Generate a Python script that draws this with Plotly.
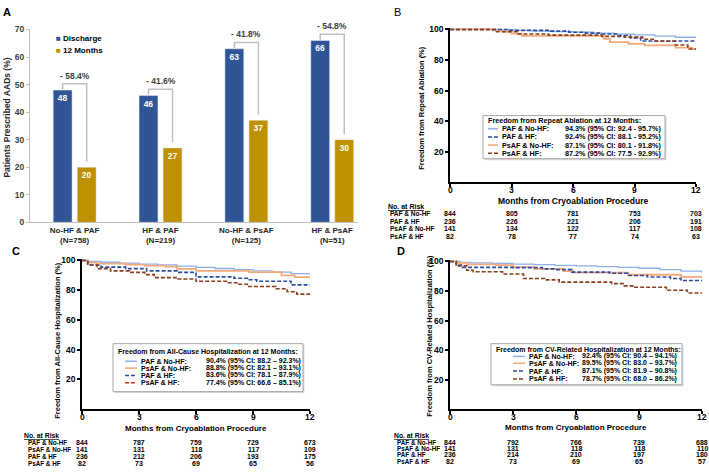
import plotly.graph_objects as go

W, H = 709, 472
FONT = "Liberation Sans, Arial, sans-serif"

BLUE_BAR = "#2F5597"
GOLD_BAR = "#BF9000"
LIGHT_BLUE = "#8DB0E6"
DARK_BLUE = "#2B4C9F"
ORANGE = "#F5A97A"
BROWN = "#8A3E1C"
RED = "#D9301E"
GRAY = "#BFBFBF"

# ---- Panel A: patients prescribed AADs
groups = ["No-HF & PAF<br>(N=758)", "HF & PAF<br>(N=219)", "No-HF & PsAF<br>(N=125)", "HF & PsAF<br>(N=51)"]
aad_discharge = [48, 46, 63, 66]
aad_12m = [20, 27, 37, 30]
aad_change = ["- 58.4%", "- 41.6%", "- 41.8%", "- 54.8%"]

# ---- KM panels, shared
km_months = [0, 3, 6, 9, 12]

# ---- Panel B: freedom from repeat ablation
b_paf_nohf_t = [0, 2.5, 3.2, 4.0, 5.0, 6.0, 7.0, 8.0, 9.0, 10.0, 11.0, 12.0]
b_paf_nohf_s = [100, 99.7, 99.4, 99.0, 98.6, 98.2, 97.6, 97.0, 96.4, 95.6, 94.9, 94.3]
b_paf_hf_t = [0, 2.8, 4.9, 5.8, 6.6, 7.4, 8.2, 8.8, 9.3, 12.0]
b_paf_hf_s = [100, 99.4, 98.9, 98.2, 97.6, 97.0, 96.0, 94.5, 92.4, 92.4]
b_psaf_nohf_t = [0, 2.05, 2.6, 3.0, 3.5, 7.5, 7.8, 8.7, 9.5, 11.0, 11.8, 12.0]
b_psaf_nohf_s = [100, 99.4, 98.5, 97.3, 95.8, 93.8, 91.7, 90.6, 89.6, 88.1, 87.1, 87.1]
b_psaf_hf_t = [0, 2.2, 3.3, 4.8, 7.4, 8.5, 9.4, 10.0, 11.0, 11.6, 12.0]
b_psaf_hf_s = [100, 98.5, 97.0, 96.3, 95.5, 95.0, 93.6, 92.3, 89.8, 87.2, 87.2]
b_leg_title = "Freedom from Repeat Ablation at 12 Months:"
b_leg_labels = ["PAF & No-HF:", "PAF & HF:", "PsAF & No-HF:", "PsAF & HF:"]
b_leg_values = ["94.3% (95% CI: 92.4 - 95.7%)", "92.4% (95% CI: 88.1 - 95.2%)",
                "87.1% (95% CI: 80.1 - 91.8%)", "87.2% (95% CI: 77.5 - 92.9%)"]
b_risk_labels = ["PAF & No-HF", "PAF & HF", "PsAF & No-HF", "PsAF & HF"]
b_risk = [[844, 805, 781, 753, 703], [236, 226, 221, 206, 191],
          [141, 134, 122, 117, 108], [82, 78, 77, 74, 63]]

# ---- Panel C: freedom from all-cause hospitalization
c_paf_nohf_t = [0, 0.3, 1, 2, 3, 4, 5, 6, 7, 8, 9, 10, 11, 12]
c_paf_nohf_s = [100, 99.3, 98.8, 98.2, 97.6, 97.0, 96.2, 95.4, 94.6, 93.8, 93.0, 92.1, 91.2, 90.4]
c_psaf_nohf_t = [0, 0.3, 0.8, 2.3, 3.3, 4.4, 5.0, 6.0, 8.8, 10.5, 11.2, 12.0]
c_psaf_nohf_s = [100, 98.6, 97.9, 97.2, 96.5, 95.8, 94.4, 93.0, 92.2, 90.0, 88.8, 88.8]
c_paf_hf_t = [0, 0.3, 1.0, 2.3, 3.4, 5.0, 6.0, 8.0, 8.8, 9.2, 11.0, 12.0]
c_paf_hf_s = [100, 97.0, 95.5, 94.5, 93.0, 92.0, 89.0, 88.0, 87.0, 86.0, 83.6, 83.6]
c_psaf_hf_t = [0, 0.3, 0.8, 1.5, 2.5, 3.3, 3.8, 5.0, 6.0, 7.7, 8.2, 8.7, 10.2, 10.8, 11.3, 12.0]
c_psaf_hf_s = [100, 97.0, 94.5, 93.0, 92.0, 90.5, 88.5, 87.5, 86.0, 85.0, 84.0, 82.5, 81.0, 79.0, 77.4, 77.4]
c_leg_title = "Freedom from All-Cause Hospitalization at 12 Months:"
c_leg_labels = ["PAF & No-HF:", "PsAF & No-HF:", "PAF & HF:", "PsAF & HF:"]
c_leg_values = ["90.4% (95% CI: 88.2 \u2013 92.3%)", "88.8% (95% CI: 82.1 \u2013 93.1%)",
                "83.6% (95% CI: 78.1 \u2013 87.9%)", "77.4% (95% CI: 66.6 \u2013 85.1%)"]
c_risk_labels = ["PAF & No-HF", "PsAF & No-HF", "PAF & HF", "PsAF & HF"]
c_risk = [[844, 787, 759, 729, 673], [141, 131, 118, 117, 109],
          [236, 212, 206, 193, 175], [82, 73, 69, 65, 56]]

# ---- Panel D: freedom from CV-related hospitalization
d_paf_nohf_t = [0, 0.5, 1, 2, 3, 4, 5, 6, 7, 8, 9, 10, 11, 12]
d_paf_nohf_s = [100, 99.3, 99.0, 98.6, 98.2, 97.8, 97.4, 97.0, 96.5, 96.0, 95.4, 94.4, 93.4, 92.4]
d_psaf_nohf_t = [0, 0.3, 0.8, 2.2, 3.0, 4.0, 5.4, 5.9, 8.5, 11.0, 12.0]
d_psaf_nohf_s = [100, 99.0, 98.0, 97.5, 96.2, 95.0, 93.5, 92.4, 91.0, 89.5, 89.5]
d_paf_hf_t = [0, 0.3, 0.6, 3.0, 4.4, 5.0, 5.8, 7.6, 8.5, 9.4, 10.5, 11.0, 12.0]
d_paf_hf_s = [100, 97.5, 96.0, 95.8, 95.0, 94.5, 92.8, 92.0, 90.5, 89.5, 88.5, 87.1, 87.1]
d_psaf_hf_t = [0, 0.3, 0.8, 1.1, 2.5, 3.5, 4.5, 5.2, 7.7, 8.3, 8.8, 10.3, 11.3, 12.0]
d_psaf_hf_s = [100, 97.0, 94.0, 93.0, 91.5, 88.5, 87.5, 86.0, 85.0, 83.5, 82.5, 80.5, 78.7, 78.7]
d_leg_title = "Freedom from CV-Related Hospitalization at 12 Months:"
d_leg_labels = ["PAF & No-HF:", "PsAF & No-HF:", "PAF & HF:", "PsAF & HF:"]
d_leg_values = ["92.4% (95% CI: 90.4 \u2013 94.1%)", "89.5% (95% CI: 83.0 \u2013 93.7%)",
                "87.1% (95% CI: 81.9 \u2013 90.8%)", "78.7% (95% CI: 68.0 \u2013 86.2%)"]
d_risk_labels = ["PAF & No-HF", "PsAF & No-HF", "PAF & HF", "PsAF & HF"]
d_risk = [[844, 792, 766, 739, 688], [141, 131, 118, 118, 110],
          [236, 214, 210, 197, 180], [82, 73, 69, 65, 57]]


def fx(p):
    return p / W


def fy(p):
    return 1 - p / H


fig = go.Figure()
ann = []
shp = []


def text(x, y, s, size, xref="paper", xanchor="left", color="black", bold=True, angle=0):
    if bold:
        s = "<b>" + s + "</b>"
    ann.append(dict(x=fx(x) if xref == "paper" else x, y=fy(y), xref=xref, yref="paper",
                    text=s, showarrow=False, xanchor=xanchor, yanchor="middle",
                    textangle=angle, borderpad=0,
                    font=dict(size=size, color=color, family=FONT)))


# ================= Panel A =================
idx = list(range(len(groups)))
bar_font = dict(size=8.5, color="white", family=FONT, weight="bold")
fig.add_trace(go.Bar(x=idx, y=aad_discharge, width=0.22, offset=-0.25, marker_color=BLUE_BAR,
                     text=aad_discharge, textposition="inside", insidetextanchor="end",
                     textangle=0, textfont=bar_font, xaxis="x", yaxis="y"))
fig.add_trace(go.Bar(x=idx, y=aad_12m, width=0.22, offset=0.03, marker_color=GOLD_BAR,
                     text=aad_12m, textposition="inside", insidetextanchor="end",
                     textangle=0, textfont=bar_font, xaxis="x", yaxis="y"))
for i, (d, m, c) in enumerate(zip(aad_discharge, aad_12m, aad_change)):
    top = d + 2.3
    fig.add_trace(go.Scatter(x=[i - 0.14, i - 0.14, i + 0.14, i + 0.14], y=[d + 0.3, top, top, m + 2],
                             mode="lines", line=dict(color=GRAY, width=1.5), xaxis="x", yaxis="y",
                             hoverinfo="skip"))
    ann.append(dict(x=i, y=top, xref="x", yref="y", text="<b>" + c + "</b>", showarrow=False,
                    yanchor="bottom", yshift=1, font=dict(size=8.5, color="#404040", family=FONT)))

text(55, 34, "<span style='color:%s'>\u25a0</span> Discharge" % BLUE_BAR, 8)
text(55, 46, "<span style='color:%s'>\u25a0</span> 12 Months" % GOLD_BAR, 8)
text(7, 115, "Patients Prescribed AADs (%)", 8.5, xanchor="center", angle=-90, color="#262626")
text(2, 7, "A", 11)


# ================= KM panels =================
def km_panel(n, xpx, ypx, series, leg, risk, titles, letter):
    xa, ya = "x%d" % n, "y%d" % n
    x0, x1 = xpx
    y0, y100 = ypx
    top = y100 - (y0 - y100) / 100.0
    tick_font = dict(size=8.5, family=FONT, weight="bold", color="black")
    fig.update_layout(**{
        "xaxis%d" % n: dict(domain=[fx(x0), fx(x1)], range=[0, 12], tickvals=km_months,
                            ticks="outside", ticklen=3, tickwidth=1.5, tickcolor="black",
                            showline=True, linecolor="black", linewidth=1.5, showgrid=False,
                            zeroline=False, showticklabels=False, anchor=ya),
        "yaxis%d" % n: dict(domain=[fy(y0), fy(top)], range=[0, 101], tickvals=[20, 40, 60, 80, 100],
                            ticks="outside", ticklen=3, tickwidth=1.5, tickcolor="black",
                            showline=True, linecolor="black", linewidth=1.5, showgrid=False,
                            zeroline=False, tickfont=tick_font, anchor=xa),
    })
    # month tick labels, set close under the axis as in the source figure
    for m in km_months:
        text(m, y0 + 7.5, str(m), 8.5, xref=xa, xanchor="center")
    for t, s, color, dash, wd in series:
        fig.add_trace(go.Scatter(x=t, y=s, mode="lines",
                                 line=dict(shape="hv", color=color, dash=dash, width=wd),
                                 xaxis=xa, yaxis=ya, hoverinfo="skip"))
    # legend box
    (bx0, bx1, by0, by1, title_y, rows_y, samp, lab_x, val_x, fsize, title, labels, values, colors) = leg
    shp.append(dict(type="rect", xref="paper", yref="paper", x0=fx(bx0 + 1.5), x1=fx(bx1 + 1.5),
                    y0=fy(by1 + 1.5), y1=fy(by0 + 1.5), line=dict(width=0), fillcolor="#D9D9D9"))
    shp.append(dict(type="rect", xref="paper", yref="paper", x0=fx(bx0), x1=fx(bx1),
                    y0=fy(by1), y1=fy(by0), line=dict(width=1, color="#A6A6A6"), fillcolor="white"))
    text(bx0 + 4, title_y, title, fsize)
    for ry, lb, vl, (c, dash) in zip(rows_y, labels, values, colors):
        shp.append(dict(type="line", xref="paper", yref="paper", x0=fx(samp[0]), x1=fx(samp[1]),
                        y0=fy(ry), y1=fy(ry), line=dict(color=c, width=1.5, dash=dash)))
        text(lab_x, ry, lb, fsize)
        text(val_x, ry, vl, fsize)
    # numbers at risk
    (hx, hy, lx, rows, lsize, nsize, rlabels, rvals) = risk
    text(hx, hy, "<u>No. at Risk</u>", lsize + 0.5)
    for ry, lb, vals in zip(rows, rlabels, rvals):
        text(lx, ry, lb, lsize)
        for m, v in zip(km_months, vals):
            text(m, ry, str(v), nsize, xref=xa, xanchor="center")
    # titles
    (yt_x, yt_y, ytitle, xt_y, xt_size) = titles
    text(yt_x, yt_y, ytitle, 7.5, xanchor="center", angle=-90)
    text((x0 + x1) / 2.0, xt_y, "Months from Cryoablation Procedure", xt_size, xanchor="center")
    text(letter[1], letter[2], letter[0], 11, bold=letter[3])


DASH = "4px,2px"
km_panel(2, (450, 696), (181, 25),
         [(b_paf_nohf_t, b_paf_nohf_s, LIGHT_BLUE, "solid", 1.3),
          (b_psaf_nohf_t, b_psaf_nohf_s, ORANGE, "solid", 1.8),
          (b_paf_hf_t, b_paf_hf_s, DARK_BLUE, DASH, 1.6),
          (b_psaf_hf_t, b_psaf_hf_s, BROWN, DASH, 1.6)],
         (483, 665, 113, 157, 118, [126.5, 134.8, 143.1, 151.4], (488, 498), 501, 564, 7.2,
          b_leg_title, b_leg_labels, b_leg_values,
          [(LIGHT_BLUE, "solid"), (DARK_BLUE, DASH), (ORANGE, "solid"), (BROWN, DASH)]),
         (387, 206, 389, [213.5, 221, 228.5, 236], 6.5, 7, b_risk_labels, b_risk),
         (422, 105, "Freedom from Repeat Ablation (%)", 200.5, 8.5),
         ("B", 393, 7, False))

km_panel(3, (82, 310), (413, 261),
         [(c_paf_nohf_t, c_paf_nohf_s, LIGHT_BLUE, "solid", 1.3),
          (c_psaf_nohf_t, c_psaf_nohf_s, ORANGE, "solid", 1.8),
          (c_paf_hf_t, c_paf_hf_s, DARK_BLUE, DASH, 1.6),
          (c_psaf_hf_t, c_psaf_hf_s, BROWN, DASH, 1.6)],
         (113, 303, 346, 395, 355, [364, 371, 378.5, 386], (125, 137), 140, 205, 7,
          c_leg_title, c_leg_labels, c_leg_values,
          [(LIGHT_BLUE, "solid"), (ORANGE, "solid"), (DARK_BLUE, DASH), (RED, DASH)]),
         (23, 439.5, 27, [447, 454, 461, 468], 6.3, 7, c_risk_labels, c_risk),
         (58, 343, "Freedom from All-Cause Hospitalization (%)", 433, 8),
         ("C", 11, 251, True))

km_panel(4, (450, 702), (413, 262),
         [(d_paf_nohf_t, d_paf_nohf_s, LIGHT_BLUE, "solid", 1.3),
          (d_psaf_nohf_t, d_psaf_nohf_s, ORANGE, "solid", 1.8),
          (d_paf_hf_t, d_paf_hf_s, DARK_BLUE, DASH, 1.6),
          (d_psaf_hf_t, d_psaf_hf_s, BROWN, DASH, 1.6)],
         (491, 682, 346, 388, 352, [359, 366, 374, 382], (513, 525), 528, 581, 7,
          d_leg_title, d_leg_labels, d_leg_values,
          [(LIGHT_BLUE, "solid"), (ORANGE, "solid"), (DARK_BLUE, DASH), (BROWN, DASH)]),
         (393, 439.5, 396, [446.5, 453, 459.5, 466], 6.3, 7, d_risk_labels, d_risk),
         (430, 338, "Freedom from CV-Related Hospitalization (%)", 431.5, 8),
         ("D", 396, 251, True))

fig.update_layout(
    width=W, height=H, margin=dict(l=0, r=0, t=0, b=0),
    paper_bgcolor="white", plot_bgcolor="white", showlegend=False, barmode="overlay",
    font=dict(family=FONT),
    xaxis=dict(domain=[fx(30), fx(358)], range=[-0.52, 3.3], tickvals=idx, ticktext=groups,
               showline=True, linecolor=GRAY, linewidth=1, showgrid=False, zeroline=False,
               ticks="", tickfont=dict(size=8, family=FONT, weight="bold", color="#262626"),
               anchor="y"),
    yaxis=dict(domain=[fy(222), fy(25)], range=[0, 70], dtick=10, showline=True, linecolor=GRAY,
               linewidth=1, ticks="outside", ticklen=3, tickcolor=GRAY, showgrid=False,
               zeroline=False, tickfont=dict(size=8.5, family=FONT, weight="bold", color="#404040"),
               anchor="x"),
    annotations=ann, shapes=shp,
)

# the page's default body margin would shift the figure off the 709x472 window
fig.write_html("out.html", config={"displayModeBar": False},
               post_script="document.body.style.margin='0';document.body.style.overflow='hidden';")
